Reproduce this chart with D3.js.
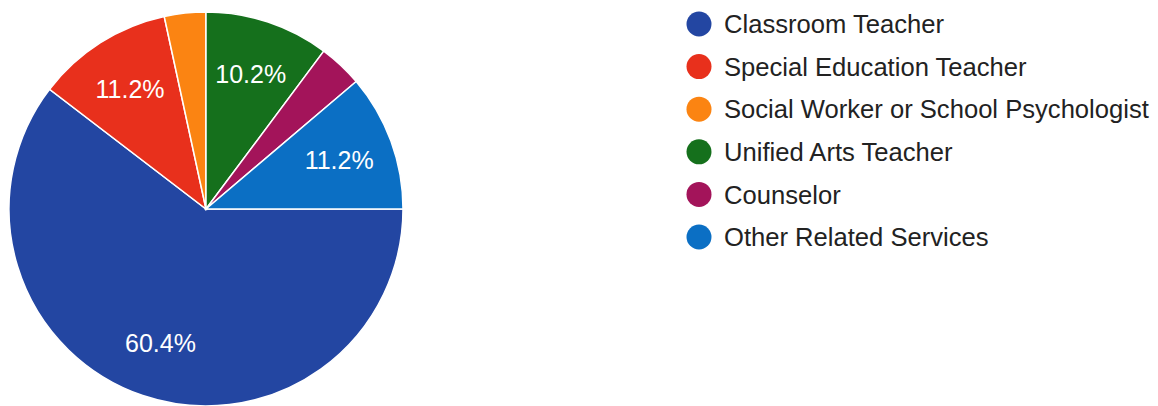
<!DOCTYPE html>
<html>
<head>
<meta charset="utf-8">
<script src="https://cdn.jsdelivr.net/npm/d3@7"></script>
<style>
  html, body { margin: 0; padding: 0; background: #ffffff; }
  svg { display: block; }
</style>
</head>
<body>
<svg id="chart" width="1158" height="406"></svg>
<script>
// Staff roles and their share of respondents (%)
const categories = [
  "Classroom Teacher",
  "Special Education Teacher",
  "Social Worker or School Psychologist",
  "Unified Arts Teacher",
  "Counselor",
  "Other Related Services"
];
const values = [60.4, 11.2, 3.4, 10.2, 3.6, 11.2];
const colors = ["#2346a2", "#e8301c", "#fb8412", "#15701c", "#a3145a", "#0b6fc4"];

const svg = d3.select("#chart");
const cx = 206, cy = 209, radius = 197;

const color = d3.scaleOrdinal().domain(categories).range(colors);

const data = categories.map((c, i) => ({ name: c, value: values[i] }));

// Slices run clockwise starting from the 3 o'clock position
const pie = d3.pie()
  .value(d => d.value)
  .sort(null)
  .startAngle(Math.PI / 2)
  .endAngle(Math.PI / 2 + 2 * Math.PI);

const arc = d3.arc().innerRadius(0).outerRadius(radius);
const labelArc = d3.arc().innerRadius(radius * 0.72).outerRadius(radius * 0.72);

const g = svg.append("g").attr("transform", `translate(${cx},${cy})`);
const arcs = pie(data);

g.selectAll("path.slice")
  .data(arcs)
  .join("path")
  .attr("class", "slice")
  .attr("d", arc)
  .attr("fill", d => color(d.data.name))
  .attr("stroke", "#ffffff")
  .attr("stroke-width", 1.5);

// Percentage labels on the larger slices only
g.selectAll("text.pct")
  .data(arcs.filter(d => d.data.value >= 5))
  .join("text")
  .attr("class", "pct")
  .attr("transform", d => `translate(${labelArc.centroid(d)})`)
  .attr("text-anchor", "middle")
  .attr("dy", "0.36em")
  .attr("fill", "#ffffff")
  .style("font-family", "Arial, 'Liberation Sans', sans-serif")
  .style("font-size", "25px")
  .text(d => d3.format(".1f")(d.data.value) + "%");

// Legend
const legendX = 699, legendY0 = 24, legendStep = 42.6;
const legend = svg.append("g");
const items = legend.selectAll("g.item")
  .data(categories)
  .join("g")
  .attr("class", "item")
  .attr("transform", (d, i) => `translate(${legendX},${legendY0 + i * legendStep})`);

items.append("circle")
  .attr("r", 12.5)
  .attr("fill", d => color(d));

items.append("text")
  .attr("x", 25)
  .attr("dy", "0.36em")
  .attr("fill", "#222222")
  .style("font-family", "Arial, 'Liberation Sans', sans-serif")
  .style("font-size", "25.6px")
  .text(d => d);
</script>
</body>
</html>
